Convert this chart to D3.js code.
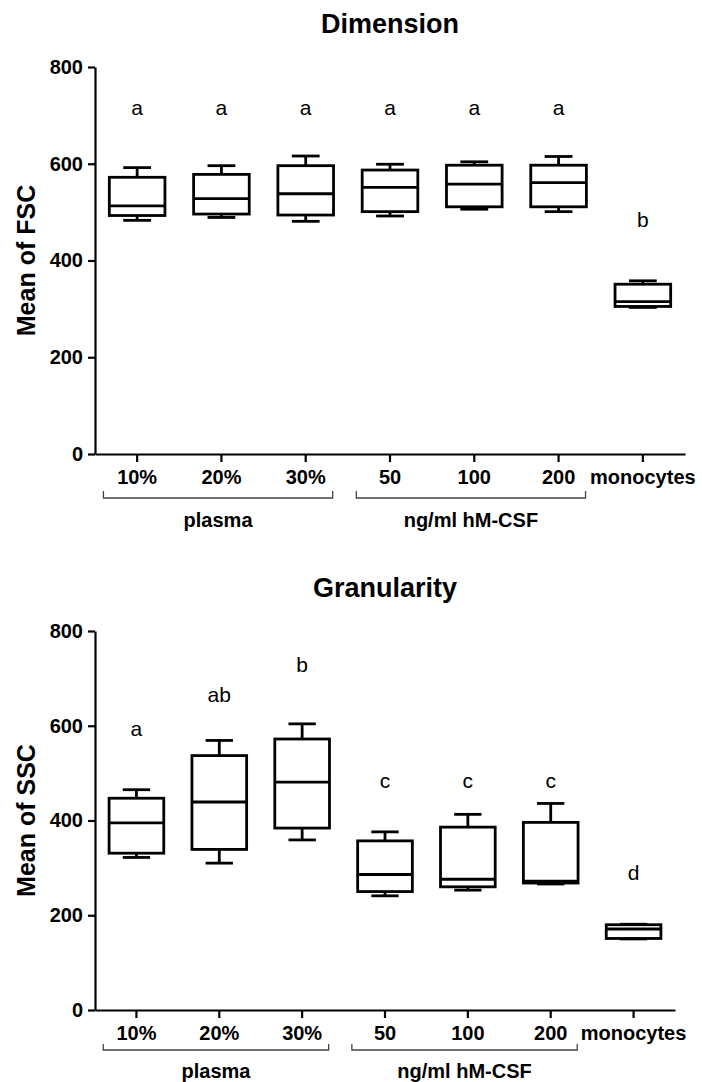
<!DOCTYPE html>
<html>
<head>
<meta charset="utf-8">
<script src="https://cdn.jsdelivr.net/npm/d3@7"></script>
<style>
  body { margin: 0; background: #fff; }
  svg { display: block; font-family: "Liberation Sans", Arial, sans-serif; }
</style>
</head>
<body>
<div id="viz-container"></div>
<script>
// categories along the x axis (same for both panels)
const categories = ["10%", "20%", "30%", "50", "100", "200", "monocytes"];
const groups = [
    { label: "plasma", from: "10%", to: "30%" },
    { label: "ng/ml hM-CSF", from: "50", to: "200" }
];
const yTicks = [0, 200, 400, 600, 800];

// Dimension (FSC) box plot values
const fscMin    = [483, 489, 481, 492, 506, 501, 303];
const fscQ1     = [493, 496, 494, 501, 511, 511, 305];
const fscMedian = [513, 528, 538, 551, 558, 561, 315];
const fscQ3     = [572, 578, 596, 587, 597, 597, 351];
const fscMax    = [592, 596, 616, 599, 604, 615, 358];
const fscLetters   = ["a", "a", "a", "a", "a", "a", "b"];
const fscLetterPos = [700, 700, 700, 700, 700, 700, 470];

// Granularity (SSC)
const sscMin    = [322, 310, 359, 241, 253, 266, 150];
const sscQ1     = [331, 339, 384, 250, 260, 268, 151];
const sscMedian = [395, 439, 481, 286, 276, 272, 171];
const sscQ3     = [447, 537, 572, 357, 386, 396, 180];
const sscMax    = [465, 569, 604, 376, 413, 436, 181];
const sscLetters   = ["a", "ab", "b", "c", "c", "c", "d"];
const sscLetterPos = [578, 650, 714, 468, 468, 468, 274];

const width = 702, height = 1082;

const svg = d3.select("#viz-container")
    .append("svg")
    .attr("width", width)
    .attr("height", height)
    .attr("viewBox", [0, 0, width, height]);

function drawPanel(opt) {
    const x = d3.scaleBand()
        .domain(categories)
        .range([opt.left, opt.right]);
    const y = d3.scaleLinear()
        .domain([0, 800])
        .range([opt.bottom, opt.top]);

    const step = x.step();
    const boxW = step * 0.66;
    const capW = boxW * 0.5;
    const cx = c => x(c) + x.bandwidth() / 2;

    const data = categories.map((c, i) => ({
        cat: c,
        min: opt.min[i], q1: opt.q1[i], med: opt.median[i], q3: opt.q3[i], max: opt.max[i],
        letter: opt.letters[i], letterPos: opt.letterPos[i]
    }));

    const g = svg.append("g");

    // title
    g.append("text")
        .attr("x", (opt.left + opt.right) / 2)
        .attr("y", opt.top - 34)
        .attr("text-anchor", "middle")
        .attr("font-size", 27)
        .attr("font-weight", "bold")
        .text(opt.title);

    // y axis
    const yAxis = g.append("g")
        .attr("transform", `translate(${opt.left},0)`)
        .call(d3.axisLeft(y).tickValues(yTicks).tickSize(7).tickSizeOuter(0).tickPadding(5));
    yAxis.selectAll("text")
        .attr("font-size", 20)
        .attr("font-weight", "bold")
        .attr("font-family", null)
        .attr("fill", "#000");

    // x axis
    const xAxis = g.append("g")
        .attr("transform", `translate(0,${opt.bottom})`)
        .call(d3.axisBottom(x).tickSize(8).tickSizeOuter(0).tickPadding(8));
    xAxis.selectAll("text")
        .attr("font-size", 20)
        .attr("font-weight", "bold")
        .attr("font-family", null)
        .attr("fill", "#000");

    g.selectAll(".domain, .tick line")
        .attr("stroke", "#000")
        .attr("stroke-width", 2.2);

    // y axis label
    g.append("text")
        .attr("transform", `translate(35,${(opt.top + opt.bottom) / 2}) rotate(-90)`)
        .attr("text-anchor", "middle")
        .attr("font-size", 25)
        .attr("font-weight", "bold")
        .text(opt.ylabel);

    // boxes
    const box = g.append("g")
        .selectAll("g")
        .data(data)
        .join("g")
        .attr("fill", "none")
        .attr("stroke", "#000")
        .attr("stroke-width", 2.8);

    // whiskers
    box.append("line")
        .attr("x1", d => cx(d.cat)).attr("x2", d => cx(d.cat))
        .attr("y1", d => y(d.max)).attr("y2", d => y(d.q3));
    box.append("line")
        .attr("x1", d => cx(d.cat)).attr("x2", d => cx(d.cat))
        .attr("y1", d => y(d.q1)).attr("y2", d => y(d.min));
    box.append("line")
        .attr("x1", d => cx(d.cat) - capW / 2).attr("x2", d => cx(d.cat) + capW / 2)
        .attr("y1", d => y(d.max)).attr("y2", d => y(d.max));
    box.append("line")
        .attr("x1", d => cx(d.cat) - capW / 2).attr("x2", d => cx(d.cat) + capW / 2)
        .attr("y1", d => y(d.min)).attr("y2", d => y(d.min));
    box.append("rect")
        .attr("x", d => cx(d.cat) - boxW / 2)
        .attr("width", boxW)
        .attr("y", d => y(d.q3))
        .attr("height", d => y(d.q1) - y(d.q3))
        .attr("fill", "#fff");
    box.append("line")
        .attr("x1", d => cx(d.cat) - boxW / 2).attr("x2", d => cx(d.cat) + boxW / 2)
        .attr("y1", d => y(d.med)).attr("y2", d => y(d.med));

    // significance letters
    g.append("g")
        .selectAll("text")
        .data(data)
        .join("text")
        .attr("x", d => cx(d.cat))
        .attr("y", d => y(d.letterPos))
        .attr("text-anchor", "middle")
        .attr("font-size", 21)
        .text(d => d.letter);

    // group brackets under the axis
    const br = g.append("g")
        .selectAll("g")
        .data(groups)
        .join("g");
    const bx0 = d => cx(d.from) - step * 0.4;
    const bx1 = d => cx(d.to) + step * 0.32;
    br.append("path")
        .attr("fill", "none")
        .attr("stroke", "#444")
        .attr("stroke-width", 1.3)
        .attr("d", d => {
            const y0 = opt.bottom + opt.bracketTop, y1 = opt.bottom + opt.bracketLine;
            return `M${bx0(d)},${y0}V${y1}H${bx1(d)}V${y0}`;
        });
    br.append("text")
        .attr("x", d => (bx0(d) + bx1(d)) / 2)
        .attr("y", opt.bottom + opt.groupLabel)
        .attr("text-anchor", "middle")
        .attr("font-size", 20)
        .attr("font-weight", "bold")
        .text(d => d.label);
}

drawPanel({
    title: "Dimension", ylabel: "Mean of FSC",
    left: 95, right: 685, top: 67, bottom: 454,
    min: fscMin, q1: fscQ1, median: fscMedian, q3: fscQ3, max: fscMax,
    letters: fscLetters, letterPos: fscLetterPos,
    bracketTop: 37, bracketLine: 44, groupLabel: 73
});

drawPanel({
    title: "Granularity", ylabel: "Mean of SSC",
    left: 95, right: 675, top: 631, bottom: 1010,
    min: sscMin, q1: sscQ1, median: sscMedian, q3: sscQ3, max: sscMax,
    letters: sscLetters, letterPos: sscLetterPos,
    bracketTop: 34, bracketLine: 40, groupLabel: 68
});
</script>
</body>
</html>
